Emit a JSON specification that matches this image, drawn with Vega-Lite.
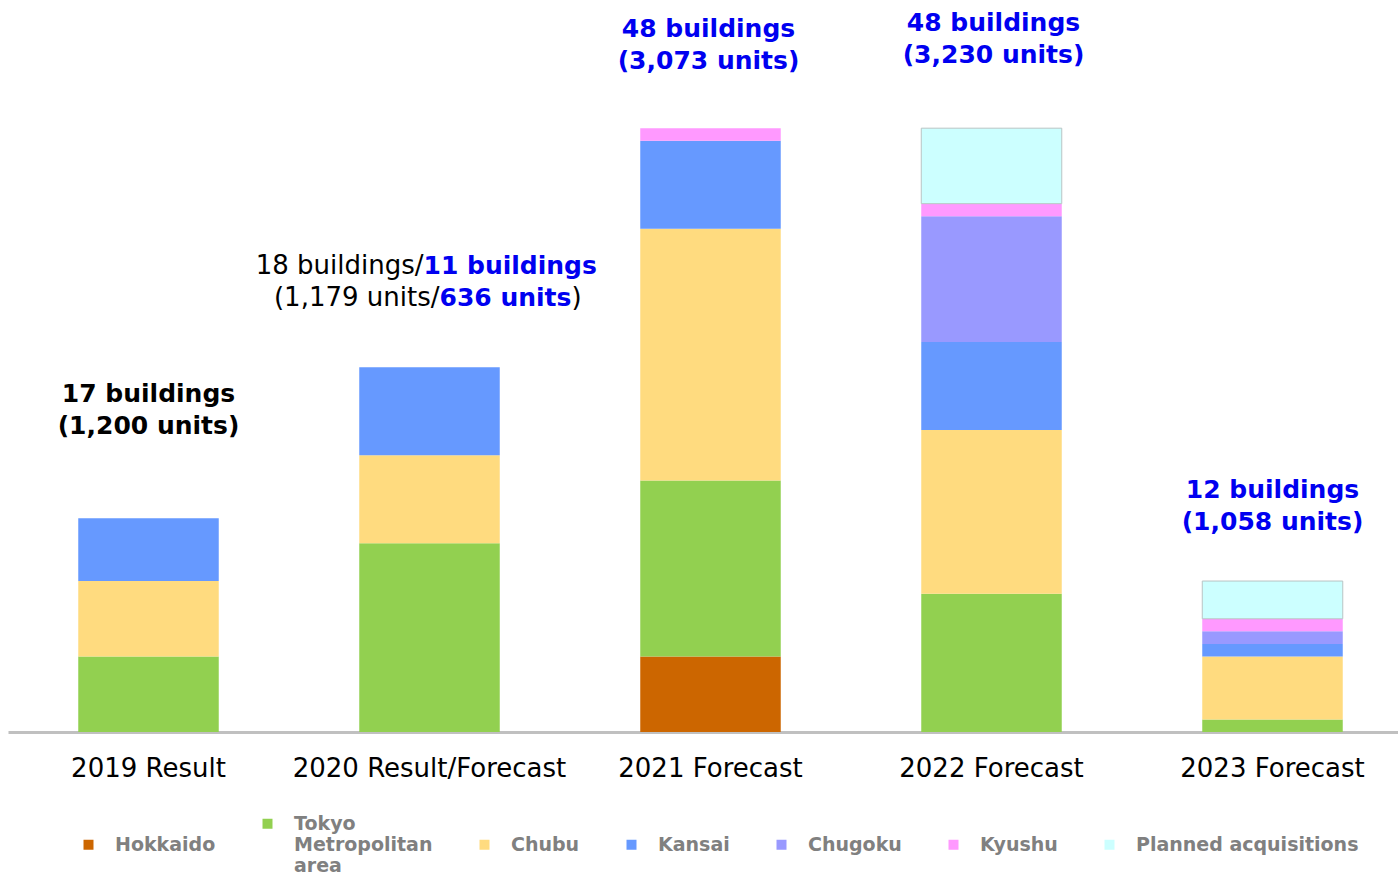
{
  "$schema": "https://vega.github.io/schema/vega-lite/v6.json",
  "width": 1390,
  "height": 732,
  "autosize": "none",
  "padding": {"left": 8, "top": 0, "right": 0, "bottom": 143},
  "config": {"view": {"stroke": null}, "font": "DejaVu Sans"},
  "datasets": {
    "bars": [
      {"year": "2019 Result", "region": "Tokyo Metropolitan area", "buildings": 6},
      {"year": "2019 Result", "region": "Chubu", "buildings": 6},
      {"year": "2019 Result", "region": "Kansai", "buildings": 5},
      {"year": "2020 Result/Forecast", "region": "Tokyo Metropolitan area", "buildings": 15},
      {"year": "2020 Result/Forecast", "region": "Chubu", "buildings": 7},
      {"year": "2020 Result/Forecast", "region": "Kansai", "buildings": 7},
      {"year": "2021 Forecast", "region": "Hokkaido", "buildings": 6},
      {"year": "2021 Forecast", "region": "Tokyo Metropolitan area", "buildings": 14},
      {"year": "2021 Forecast", "region": "Chubu", "buildings": 20},
      {"year": "2021 Forecast", "region": "Kansai", "buildings": 7},
      {"year": "2021 Forecast", "region": "Kyushu", "buildings": 1},
      {"year": "2022 Forecast", "region": "Tokyo Metropolitan area", "buildings": 11},
      {"year": "2022 Forecast", "region": "Chubu", "buildings": 13},
      {"year": "2022 Forecast", "region": "Kansai", "buildings": 7},
      {"year": "2022 Forecast", "region": "Chugoku", "buildings": 10},
      {"year": "2022 Forecast", "region": "Kyushu", "buildings": 1},
      {"year": "2022 Forecast", "region": "Planned acquisitions", "buildings": 6},
      {"year": "2023 Forecast", "region": "Tokyo Metropolitan area", "buildings": 1},
      {"year": "2023 Forecast", "region": "Chubu", "buildings": 5},
      {"year": "2023 Forecast", "region": "Kansai", "buildings": 1},
      {"year": "2023 Forecast", "region": "Chugoku", "buildings": 1},
      {"year": "2023 Forecast", "region": "Kyushu", "buildings": 1},
      {"year": "2023 Forecast", "region": "Planned acquisitions", "buildings": 3}
    ],
    "labels": [
      {"year": "2019 Result", "total": 17, "text": "17 buildings\n(1,200 units)"},
      {"year": "2020 Result/Forecast", "total": 29, "a": "18 buildings/", "b": "11 buildings", "c": "(1,179 units/", "d": "636 units", "e": ")"},
      {"year": "2021 Forecast", "total": 48, "text": "48 buildings\n(3,073 units)"},
      {"year": "2022 Forecast", "total": 48, "text": "48 buildings\n(3,230 units)"},
      {"year": "2023 Forecast", "total": 12, "text": "12 buildings\n(1,058 units)"}
    ]
  },
  "encoding": {
    "x": {
      "field": "year", "type": "nominal",
      "sort": ["2019 Result", "2020 Result/Forecast", "2021 Forecast", "2022 Forecast", "2023 Forecast"],
      "scale": {"range": [0, 1405], "paddingInner": 0.5, "paddingOuter": 0.25},
      "axis": {"title": null, "labelAngle": 0, "ticks": false, "domainColor": "#c0c0c0", "domainWidth": 3, "labelFontSize": 26, "labelColor": "#000000", "labelFont": "DejaVu Sans", "labelBaseline": "middle", "labelPadding": 36, "labelLimit": 400}
    },
    "y": {"field": "total", "type": "quantitative", "scale": {"domain": [0, 58.19], "nice": false}, "axis": null}
  },
  "layer": [
    {
      "data": {"name": "bars"},
      "transform": [{"calculate": "indexof(['Hokkaido','Tokyo Metropolitan area','Chubu','Kansai','Chugoku','Kyushu','Planned acquisitions'], datum.region)", "as": "k"}],
      "mark": {"type": "bar"},
      "encoding": {
        "y": {"field": "buildings", "type": "quantitative", "stack": "zero", "scale": {"domain": [0, 58.19], "nice": false}, "axis": null},
        "color": {
          "field": "region", "type": "nominal",
          "scale": {
            "domain": ["Hokkaido", "Tokyo Metropolitan area", "Chubu", "Kansai", "Chugoku", "Kyushu", "Planned acquisitions"],
            "range": ["#CC6600", "#92D050", "#FFDB7F", "#6699FF", "#9999FF", "#FF99FF", "#CCFFFF"]
          },
          "legend": {
            "title": null, "orient": "none", "direction": "horizontal", "legendX": 71, "legendY": 814,
            "symbolType": "square", "symbolSize": 100, "symbolStrokeWidth": 0,
            "labelFont": "DejaVu Sans", "labelFontWeight": "bold", "labelFontSize": 19, "labelColor": "#808080",
            "labelOffset": 17, "columnPadding": 42, "labelLimit": 400, "labelLineHeight": 23,
            "labelExpr": "datum.label == 'Tokyo Metropolitan area' ? ['Tokyo','Metropolitan','area'] : datum.label",
            "encode": {"labels": {"dy": {"value": {"expr": "datum.value == 'Tokyo Metropolitan area' ? -23 : 0"}}}}
          }
        },
        "stroke": {"condition": {"test": "datum.region == 'Planned acquisitions'", "value": "#b8c4c4"}, "value": null},
        "order": {"field": "k", "type": "quantitative"}
      }
    },
    {
      "data": {"name": "labels"},
      "transform": [{"filter": "datum.year == '2019 Result'"}],
      "mark": {"type": "text", "lineBreak": "\n", "lineHeight": 32, "fontSize": 25, "fontWeight": "bold", "color": "#000000", "baseline": "middle", "dy": -124},
      "encoding": {"text": {"field": "text"}}
    },
    {
      "data": {"name": "labels"},
      "transform": [{"filter": "datum.year == '2021 Forecast'"}],
      "mark": {"type": "text", "lineBreak": "\n", "lineHeight": 32, "fontSize": 25, "fontWeight": "bold", "color": "#0000F0", "baseline": "middle", "dy": -99, "dx": -2},
      "encoding": {"text": {"field": "text"}}
    },
    {
      "data": {"name": "labels"},
      "transform": [{"filter": "datum.year == '2022 Forecast'"}],
      "mark": {"type": "text", "lineBreak": "\n", "lineHeight": 32, "fontSize": 25, "fontWeight": "bold", "color": "#0000F0", "baseline": "middle", "dy": -105, "dx": 2},
      "encoding": {"text": {"field": "text"}}
    },
    {
      "data": {"name": "labels"},
      "transform": [{"filter": "datum.year == '2023 Forecast'"}],
      "mark": {"type": "text", "lineBreak": "\n", "lineHeight": 32, "fontSize": 25, "fontWeight": "bold", "color": "#0000F0", "baseline": "middle", "dy": -91},
      "encoding": {"text": {"field": "text"}}
    },
    {
      "data": {"name": "labels"},
      "transform": [{"filter": "datum.year == '2020 Result/Forecast'"}],
      "mark": {"type": "text", "fontSize": 26, "color": "#000000", "baseline": "middle", "align": "right", "dy": -101, "dx": -6},
      "encoding": {"text": {"field": "a"}}
    },
    {
      "data": {"name": "labels"},
      "transform": [{"filter": "datum.year == '2020 Result/Forecast'"}],
      "mark": {"type": "text", "fontSize": 25, "fontWeight": "bold", "color": "#0000F0", "baseline": "middle", "align": "left", "dy": -101, "dx": -6},
      "encoding": {"text": {"field": "b"}}
    },
    {
      "data": {"name": "labels"},
      "transform": [{"filter": "datum.year == '2020 Result/Forecast'"}],
      "mark": {"type": "text", "fontSize": 26, "color": "#000000", "baseline": "middle", "align": "right", "dy": -69, "dx": 10},
      "encoding": {"text": {"field": "c"}}
    },
    {
      "data": {"name": "labels"},
      "transform": [{"filter": "datum.year == '2020 Result/Forecast'"}],
      "mark": {"type": "text", "fontSize": 25, "fontWeight": "bold", "color": "#0000F0", "baseline": "middle", "align": "left", "dy": -69, "dx": 10},
      "encoding": {"text": {"field": "d"}}
    },
    {
      "data": {"name": "labels"},
      "transform": [{"filter": "datum.year == '2020 Result/Forecast'"}],
      "mark": {"type": "text", "fontSize": 26, "color": "#000000", "baseline": "middle", "align": "left", "dy": -69, "dx": 142},
      "encoding": {"text": {"field": "e"}}
    }
  ]
}
